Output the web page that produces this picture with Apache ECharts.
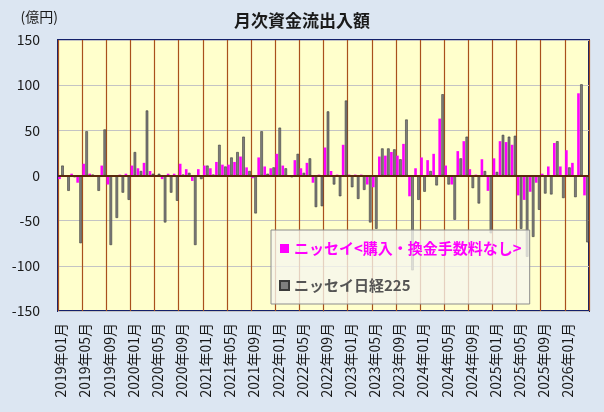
<!DOCTYPE html>
<html>
<head>
<meta charset="utf-8">
<script src="https://cdn.jsdelivr.net/npm/echarts@6/dist/echarts.min.js"></script>
<style>
  html, body { margin: 0; padding: 0; background: #DCE6F2; }
  #main { width: 604px; height: 412px; }
</style>
</head>
<body>
<div id="main"></div>
<script>
// 2019年01月 ～ 2026年04月
var months = [];
for (var y = 2019; y <= 2026; y++) {
  for (var m = 1; m <= 12; m++) {
    if (y === 2026 && m > 4) break;
    months.push(y + '年' + (m < 10 ? '0' + m : m) + '月');
  }
}

// ニッセイ<購入・換金手数料なし>
var nissayFund = [
  -4, 0, 2, -8, 13, 2, 0, 11, -10, -1, 1, 2,
  11, 8, 14, 5, 0, -4, 2, 2, 13, 7, -6, 7,
  11, 8, 15, 12, 12, 15, 21, 9, -3, 20, 10, 8,
  24, 11, 0, 17, 8, 14, -8, 1, 31, 5, 1, 34,
  1, 1, 1, -10, -13, 21, 22, 26, 22, 35, -23, 8,
  20, 17, 24, 63, 11, -10, 27, 38, 7, 1, 18, -17,
  19, 38, 37, 34, -22, -27, -18, -8, 2, 10, 36, 10,
  28, 14, 91, -22
];

// ニッセイ日経225
var nissay225 = [
  11, -17, -2, -75, 49, 1, -17, 51, -77, -47, -19, -27,
  26, 5, 72, 2, 2, -52, -19, -28, 1, 3, -77, -4,
  11, 1, 34, 10, 20, 26, 43, 5, -42, 49, 2, 9,
  53, 8, -2, 24, 3, 19, -35, -34, 71, -10, -23, 83,
  -13, -26, -16, -52, -59, 30, 30, 29, 18, 62, -105, -27,
  -18, 5, -11, 90, -10, -49, 19, 43, -14, -31, 5, -64,
  4, 45, 43, 44, -59, -90, -68, -38, -20, -21, 38, -25,
  9, -24, 101, -74
];

var yTicks = [-150, -100, -50, 0, 50, 100, 150];

var chart = echarts.init(document.getElementById('main'));
var font = '"Noto Sans CJK JP", sans-serif';

var option = {
  backgroundColor: '#DCE6F2',
  textStyle: { fontFamily: font },
  title: {
    text: '月次資金流出入額',
    left: 'center',
    top: 7,
    textStyle: { fontSize: 17, fontWeight: 'bold', color: '#1a1a1a', fontFamily: font }
  },
  legend: {
    orient: 'vertical',
    left: 271,
    top: 230,
    padding: [11, 8],
    itemGap: 22,
    itemWidth: 9,
    itemHeight: 9,
    backgroundColor: 'rgba(246,246,238,0.78)',
    borderColor: '#8c8c8c',
    borderWidth: 1,
    textStyle: { fontSize: 15, fontWeight: 'bold', fontFamily: font },
    data: [
      { name: 'ニッセイ<購入・換金手数料なし>', icon: 'rect', textStyle: { color: '#FF00FF' } },
      { name: 'ニッセイ日経225', icon: 'rect', textStyle: { color: '#555555' } }
    ]
  },
  grid: {
    left: 58,
    right: 15,
    top: 40,
    bottom: 101,
    show: true,
    backgroundColor: '#FFFFCC',
    borderColor: '#14206A',
    borderWidth: 2
  },
  xAxis: {
    type: 'category',
    data: months,
    boundaryGap: true,
    axisLine: { show: false, onZero: false },
    axisTick: { show: false, interval: 3 },
    axisLabel: {
      interval: 3,
      rotate: 90,
      fontSize: 14,
      color: '#1a1a1a',
      margin: 12,
      fontFamily: font
    },
    splitLine: {
      show: true,
      interval: 3,
      lineStyle: { color: '#A9501C', width: 1.2 }
    }
  },
  yAxis: {
    type: 'value',
    min: yTicks[0],
    max: yTicks[yTicks.length - 1],
    interval: 50,
    name: '(億円)',
    nameLocation: 'end',
    nameGap: 16,
    nameTextStyle: { align: 'right', fontSize: 14, color: '#1a1a1a', fontFamily: font },
    axisLine: { show: false },
    axisTick: { show: false },
    axisLabel: { fontSize: 14, color: '#1a1a1a', margin: 18, fontFamily: font },
    splitLine: { lineStyle: { color: '#C4C4C4', width: 1 } }
  },
  series: [
    {
      name: 'ニッセイ<購入・換金手数料なし>',
      type: 'bar',
      data: nissayFund,
      barWidth: 2.6,
      barGap: '15%',
      itemStyle: { color: '#FF00FF' },
      markLine: {
        silent: true,
        symbol: 'none',
        label: { show: false },
        lineStyle: { color: '#5A2A0C', width: 2, type: 'solid' },
        data: [{ yAxis: 0 }]
      }
    },
    {
      name: 'ニッセイ日経225',
      type: 'bar',
      data: nissay225,
      barWidth: 2.6,
      itemStyle: { color: '#7F7F7F', borderColor: '#3A3A3A', borderWidth: 0.6 }
    }
  ]
};
chart.setOption(option);
</script>
</body>
</html>
